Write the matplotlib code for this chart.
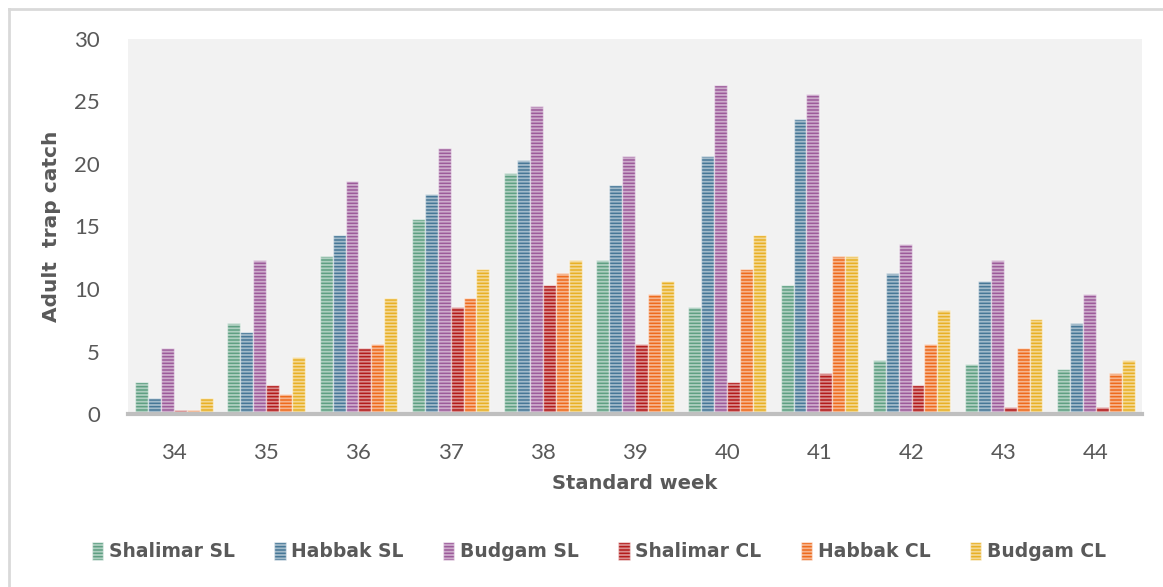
import numpy as np
import matplotlib.pyplot as plt
from matplotlib.lines import Line2D

plt.rcParams['font.family'] = ['DejaVu Sans']
plt.rcParams['hatch.linewidth'] = 1.3

semanas = ['34', '35', '36', '37', '38', '39', '40', '41', '42', '43', '44']

shalimar_sl = [2.6, 7.3, 12.6, 15.6, 19.3, 12.3, 8.6, 10.3, 4.3, 4.0, 3.6]
habbak_sl = [1.3, 6.6, 14.3, 17.6, 20.3, 18.3, 20.6, 23.6, 11.3, 10.6, 7.3]
budgam_sl = [5.3, 12.3, 18.6, 21.3, 24.6, 20.6, 26.3, 25.6, 13.6, 12.3, 9.6]
shalimar_cl = [0.3, 2.3, 5.3, 8.6, 10.3, 5.6, 2.6, 3.3, 2.3, 0.6, 0.6]
habbak_cl = [0.3, 1.6, 5.6, 9.3, 11.3, 9.6, 11.6, 12.6, 5.6, 5.3, 3.3]
budgam_cl = [1.3, 4.6, 9.3, 11.6, 12.3, 10.6, 14.3, 12.6, 8.3, 7.6, 4.3]

series = [
    ('Shalimar SL', shalimar_sl, '#5e9f82'),
    ('Habbak SL', habbak_sl, '#467796'),
    ('Budgam SL', budgam_sl, '#9c5a9a'),
    ('Shalimar CL', shalimar_cl, '#b31a1a'),
    ('Habbak CL', habbak_cl, '#ee6a1c'),
    ('Budgam CL', budgam_cl, '#e8b025'),
]

fig = plt.figure(figsize=(11.63, 5.87), dpi=100)
ax = fig.add_axes([0.110, 0.2947, 0.872, 0.6389])
ax.set_facecolor('#f2f2f2')

x = np.arange(len(semanas))
ancho = 0.14
for i, (nombre, valores, color) in enumerate(series):
    pos = x + (i - 2.5) * ancho
    ax.bar(pos, valores, width=ancho, color=color, label=nombre,
           hatch='-----', edgecolor=(1, 1, 1, 0.5), linewidth=1.0)

ax.set_xlim(-0.5, len(semanas) - 0.5)
ax.set_ylim(0, 30)
ax.set_yticks(range(0, 31, 5))
ax.set_xticks(x)
ax.set_xticklabels(semanas)
ax.tick_params(axis='both', length=0, labelsize=16, labelcolor='#595959')
ax.tick_params(axis='x', pad=21)
ax.tick_params(axis='y', pad=20)
for lbl in ax.get_xticklabels() + ax.get_yticklabels():
    lbl.set_family(['Lato', 'DejaVu Sans'])

for lado in ['top', 'right', 'left']:
    ax.spines[lado].set_visible(False)
ax.spines['bottom'].set_color('#bfbfbf')
ax.spines['bottom'].set_linewidth(3)

ax.set_xlabel('Standard week', fontsize=14, fontweight='bold', color='#595959', labelpad=8)
ax.set_ylabel('Adult  trap catch', fontsize=14.5, fontweight='bold', color='#595959', labelpad=10)

fig.legend(loc='center', bbox_to_anchor=(0.515, 0.061), ncol=6, frameon=False,
           handlelength=0.6, handleheight=1.1, handletextpad=0.3,
           columnspacing=2.1, prop={'weight': 'bold', 'size': 13.5})
for t in fig.legends[0].get_texts():
    t.set_color('#595959')

# marco de la figura
fig.add_artist(Line2D([0.008, 0.008], [0, 0.985], color='#d9d9d9', linewidth=2))
fig.add_artist(Line2D([0.008, 1.0], [0.985, 0.985], color='#d9d9d9', linewidth=2))

plt.savefig('out.png', dpi=100)
